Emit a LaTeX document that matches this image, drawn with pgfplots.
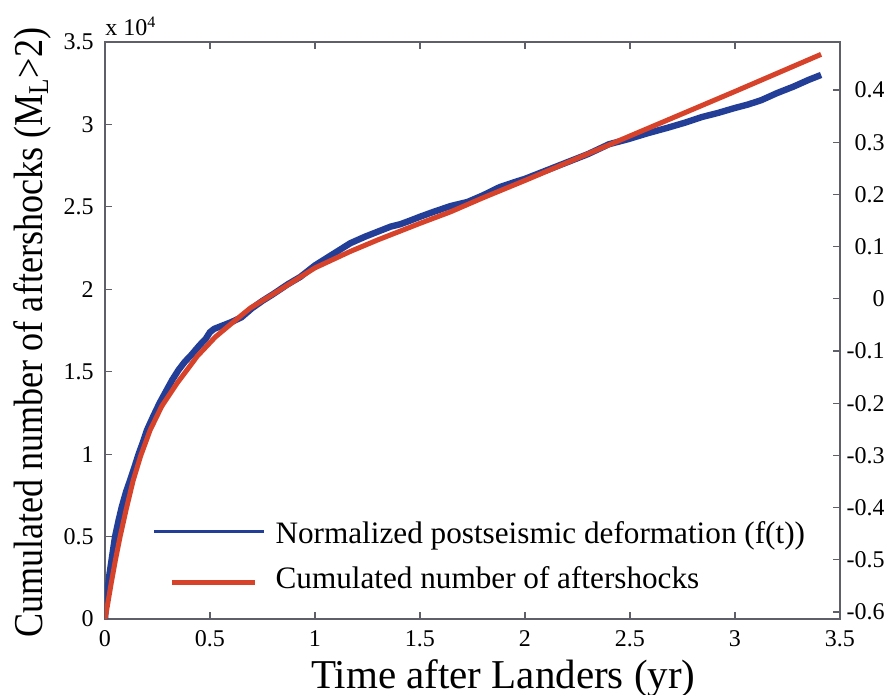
\documentclass[border=0pt]{standalone}
\usepackage{graphicx}
\usepackage{pgfplots}
\pgfplotsset{compat=1.18}
\usepackage{fontspec}
\setmainfont{Liberation Serif}

\definecolor{defblue}{RGB}{35,62,150}
\definecolor{shockred}{RGB}{214,66,42}
\definecolor{axisgray}{RGB}{95,95,105}

% Normalized postseismic deformation f(t)
\pgfplotstableread{
t     n
0     0
0.004 800
0.01  1500
0.02  2600
0.035 3900
0.048 5000
0.065 6000
0.08  6800
0.10  7700
0.119 8400
0.14  9200
0.16  10000
0.18  10700
0.20  11460
0.23  12300
0.26  13100
0.29  13800
0.32  14500
0.35  15100
0.38  15600
0.41  16000
0.45  16600
0.48  17000
0.50  17400
0.52  17600
0.56  17800
0.60  18000
0.65  18300
0.70  18850
0.75  19300
0.80  19700
0.87  20300
0.93  20750
1.00  21450
1.05  21850
1.10  22250
1.169 22800
1.24  23200
1.30  23500
1.36  23800
1.407 23950
1.46  24200
1.50  24400
1.565 24700
1.646 25050
1.727 25300
1.80  25700
1.88  26200
1.95  26500
2.00  26700
2.10  27200
2.20  27700
2.30  28200
2.40  28800
2.49  29100
2.58  29450
2.68  29800
2.76  30100
2.84  30440
2.92  30700
3.00  31000
3.06  31200
3.125 31470
3.20  31900
3.28  32300
3.35  32700
3.41  33000
}\deformation

% Cumulated number of aftershocks
\pgfplotstableread{
t     n
0     0
0.01  700
0.03  2200
0.05  3600
0.072 5000
0.10  6600
0.134 8400
0.17  9900
0.215 11460
0.27  12900
0.343 14300
0.44  15950
0.525 17100
0.60  17900
0.692 18860
0.80  19700
0.90  20500
1.00  21300
1.169 22300
1.30  23000
1.50  24000
1.646 24700
1.80  25550
2.00  26600
2.50  29300
3.00  32000
3.41  34250
}\aftershocks

\begin{document}
\begin{tikzpicture}
\pgfplotsset{
  common/.style={
    width=367.5pt, height=288.5pt, scale only axis,
    xmin=0, xmax=3.5,
    axis line style={axisgray, line width=0.6pt},
    every tick/.style={axisgray, line width=0.6pt},
    major tick length=3.5pt,
    tick align=inside,
    tick label style={font=\fontsize{12}{14}\selectfont, inner sep=0pt},
  },
}
\begin{axis}[
  common,
  clip mode=individual,
  ymin=0, ymax=35000,
  scaled y ticks=false,
  xtick={0,0.5,1,1.5,2,2.5,3,3.5},
  xticklabels={0,0.5,1,1.5,2,2.5,3,3.5},
  ytick={0,5000,10000,15000,20000,25000,30000,35000},
  yticklabels={0,0.5,1,1.5,2,2.5,3,3.5},
  ytick pos=left,
  xticklabel shift=5.5pt,
  yticklabel shift=5.5pt,
  xlabel={Time after Landers (yr)},
  ylabel={\scalebox{0.88}[1]{Cumulated number of aftershocks (M\textsubscript{L}>2)}},
  xlabel style={at={(axis description cs:0.542,-0.1196)}, anchor=base,
    inner sep=0pt, font=\fontsize{20.5}{24}\selectfont},
  ylabel style={at={(axis description cs:-0.0857,0.496)}, anchor=base,
    inner sep=0pt, font=\fontsize{20.5}{24}\selectfont},
  legend cell align=left,
  legend style={draw=none, fill=none, inner sep=0pt,
    at={(axis description cs:0.0653,0.1767)}, anchor=north west,
    font=\fontsize{15.6}{18}\selectfont,
    cells={anchor=base west, inner sep=0pt},
    row sep=6pt,
    /tikz/every odd column/.append style={column sep=3pt}},
]
\coordinate (O) at (rel axis cs:0,0);
\node[anchor=base west, inner sep=0pt, yshift=3pt,
  font=\fontsize{12}{14}\selectfont] at (rel axis cs:0,1) {x 10\textsuperscript{4}};
\addplot[defblue, line width=3.2pt, line join=round,
  legend image code/.code={\draw[defblue, line width=1.1pt] (0pt,6pt) -- (55pt,6pt);}]
  table[x=t, y=n] {\deformation};
\addlegendentry{Normalized postseismic deformation (f(t))}
\addplot[shockred, line width=2.5pt, line join=round,
  legend image code/.code={\draw[shockred, line width=2.6pt] (9pt,3pt) -- (50.5pt,3pt);}]
  table[x=t, y=n] {\aftershocks};
\addlegendentry{Cumulated number of aftershocks}
\end{axis}
\begin{axis}[
  common,
  ymin=-0.6134, ymax=0.492,
  axis x line=none,
  axis y line*=right,
  ytick={-0.6,-0.5,-0.4,-0.3,-0.2,-0.1,0,0.1,0.2,0.3,0.4},
  yticklabels={-0.6,-0.5,-0.4,-0.3,-0.2,-0.1,0,0.1,0.2,0.3,0.4},
  yticklabel style={anchor=east, xshift=22.5pt},
]
\end{axis}
\pgfresetboundingbox
\path (O) ++(-52.5pt,-38pt) rectangle ++(442pt,347.5pt);
\end{tikzpicture}
\end{document}
